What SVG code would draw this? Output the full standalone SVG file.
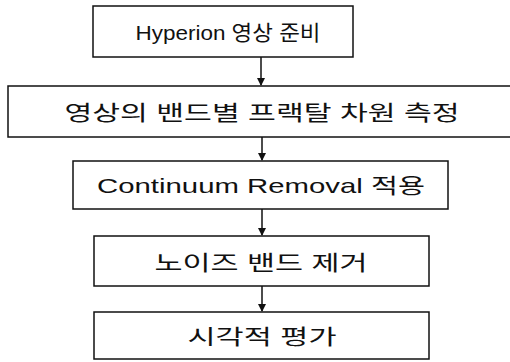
<svg xmlns="http://www.w3.org/2000/svg" width="510" height="362" viewBox="0 0 510 362">
<style>
.box{fill:#fff;stroke:#111;stroke-width:1.5}
.t{font-family:"Liberation Sans","Noto Sans CJK KR",sans-serif;font-size:21px;fill:#111;text-anchor:middle}
.c{stroke:#111;stroke-width:1.5;fill:none}
</style>
<defs>
<marker id="ah" markerWidth="8" markerHeight="8" refX="7" refY="4" orient="auto" markerUnits="userSpaceOnUse">
<path d="M0,0 L8,4 L0,8 Z" fill="#111"/>
</marker>
</defs>
<rect width="510" height="362" fill="#fff"/>
<g id="connectors">
<line class="c" x1="261" y1="57" x2="261" y2="85" marker-end="url(#ah)"/>
<line class="c" x1="262" y1="137" x2="262" y2="160" marker-end="url(#ah)"/>
<line class="c" x1="262" y1="209" x2="262" y2="235" marker-end="url(#ah)"/>
<line class="c" x1="262" y1="286" x2="262" y2="311" marker-end="url(#ah)"/>
</g>
<g id="n1"><rect class="box" x="93" y="6" width="260" height="51"/><text class="t" x="228" y="40" textLength="185" lengthAdjust="spacingAndGlyphs">Hyperion 영상 준비</text></g>
<g id="n2"><rect class="box" x="8" y="86" width="510" height="51"/><text class="t" x="262" y="120" textLength="395" lengthAdjust="spacingAndGlyphs">영상의 밴드별 프랙탈 차원 측정</text></g>
<g id="n3"><rect class="box" x="73" y="161" width="375" height="48"/><text class="t" x="261" y="193" textLength="328" lengthAdjust="spacingAndGlyphs">Continuum Removal 적용</text></g>
<g id="n4"><rect class="box" x="94" y="236" width="335" height="50"/><text class="t" x="261" y="270" textLength="213" lengthAdjust="spacingAndGlyphs">노이즈 밴드 제거</text></g>
<g id="n5"><rect class="box" x="94" y="312" width="335" height="47"/><text class="t" x="262" y="344" textLength="149" lengthAdjust="spacingAndGlyphs">시각적 평가</text></g>
</svg>
